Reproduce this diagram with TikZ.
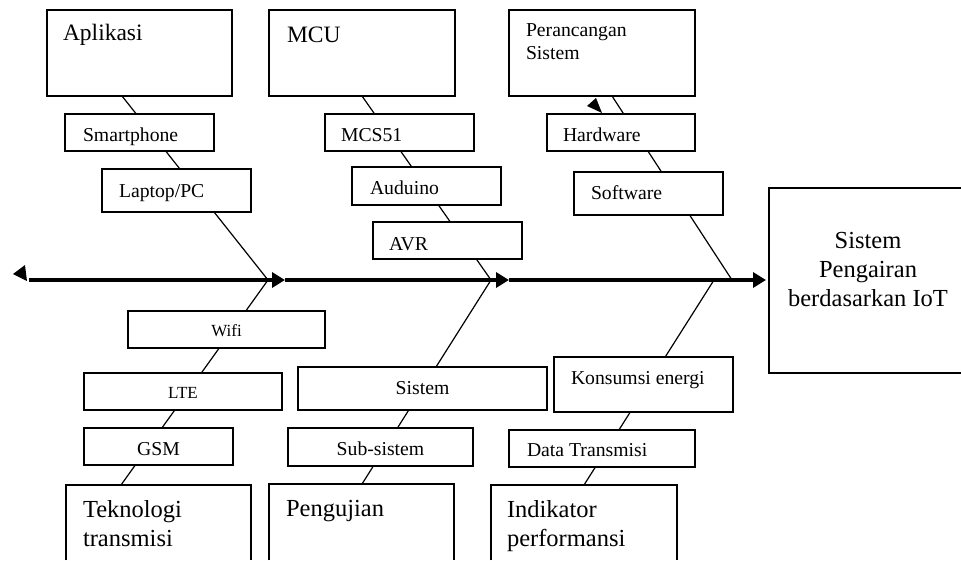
\documentclass[tikz,border=0pt]{standalone}
\usepackage{fontspec}
\setmainfont{Liberation Serif}
\usetikzlibrary{arrows.meta}
\pgfdeclarelayer{bones}
\pgfsetlayers{bones,main}

\newcommand\bigtxt{\fontsize{23.5}{29}\selectfont}
\newcommand\midtxt{\fontsize{19.7}{23}\selectfont}
\newcommand\smalltxt{\fontsize{17}{20}\selectfont}

\tikzset{
  box/.style={draw, fill=white, line width=1.1pt, inner sep=0pt, outer sep=0pt, anchor=north west},
  openbox/.style={fill=white, inner sep=0pt, outer sep=0pt, anchor=north west},
  frame/.style={line width=1.1pt},
  lbl/.style={inner sep=0pt, outer sep=0pt, anchor=base west},
  clbl/.style={inner sep=0pt, outer sep=0pt, anchor=base},
  bone/.style={line width=1.2pt},
  spine/.style={line width=4.5pt, -{Triangle[length=13pt,width=15pt]}},
}

\begin{document}
\begin{tikzpicture}[x=1pt, y=-1pt]
\useasboundingbox (0,0) rectangle (961,560);

% upper categories
\node[box, minimum width=185pt, minimum height=86pt] (aplikasi) at (47,10) {};
\node[box, minimum width=186pt, minimum height=86pt] (mcu) at (269,10) {};
\node[box, minimum width=186pt, minimum height=86pt] (rancang) at (509,10) {};
\node[lbl, font=\bigtxt] (aplikasi-t) at (63,40.7) {Aplikasi};
\node[lbl, font=\bigtxt] (mcu-t) at (287,42) {MCU};
\node[lbl, font=\midtxt] (rancang-t) at (526,36.7) {\parbox[t]{160pt}{\raggedright Perancangan\\Sistem}};

% upper causes
\node[box, minimum width=149pt, minimum height=37pt] (smart) at (65,114) {};
\node[box, minimum width=149pt, minimum height=43pt] (laptop) at (102,169) {};
\node[box, minimum width=149pt, minimum height=37pt] (mcs) at (325,114) {};
\node[box, minimum width=149pt, minimum height=38pt] (auduino) at (352,167) {};
\node[box, minimum width=149pt, minimum height=37pt] (avr) at (373,222) {};
\node[box, minimum width=148pt, minimum height=37pt] (hardware) at (547,114) {};
\node[box, minimum width=149pt, minimum height=43pt] (software) at (574,172) {};
\node[lbl, font=\midtxt] (smart-t) at (83,141.7) {Smartphone};
\node[lbl, font=\midtxt] (laptop-t) at (119,197) {Laptop/PC};
\node[lbl, font=\midtxt] (mcs-t) at (341,141.7) {MCS51};
\node[lbl, font=\midtxt] (auduino-t) at (370,194.3) {Auduino};
\node[lbl, font=\midtxt] (avr-t) at (389,250) {AVR};
\node[lbl, font=\midtxt] (hardware-t) at (563,141.7) {Hardware};
\node[lbl, font=\midtxt] (software-t) at (591,199) {Software};

% effect
\node[openbox, minimum width=192pt, minimum height=185pt] (sys) at (769,188) {};
\draw[frame] (sys.north east) -- (sys.north west) -- (sys.south west) -- (sys.south east);
\node[clbl, font=\fontsize{24.5}{29}\selectfont] (sys-t) at (868,248)
  {\parbox[t]{190pt}{\centering Sistem\\Pengairan\\berdasarkan IoT}};

% lower causes
\node[box, minimum width=197pt, minimum height=37pt] (wifi) at (128,311) {};
\node[box, minimum width=198pt, minimum height=37pt] (lte) at (84,373) {};
\node[box, minimum width=149pt, minimum height=37pt] (gsm) at (84,428) {};
\node[box, minimum width=249pt, minimum height=43pt] (sistem) at (298,367) {};
\node[box, minimum width=185pt, minimum height=38pt] (sub) at (288,428) {};
\node[box, minimum width=179pt, minimum height=55pt] (konsumsi) at (554,357) {};
\node[box, minimum width=186pt, minimum height=37pt] (data) at (509,430) {};
\node[clbl, font=\smalltxt] (wifi-t) at (226.5,336) {Wifi};
\node[clbl, font=\smalltxt] (lte-t) at (183,398) {LTE};
\node[clbl, font=\midtxt] (gsm-t) at (158.5,455.7) {GSM};
\node[clbl, font=\midtxt] (sistem-t) at (422.5,394.3) {Sistem};
\node[clbl, font=\midtxt] (sub-t) at (380.5,455) {Sub-sistem};
\node[lbl, font=\midtxt] (konsumsi-t) at (571,384) {Konsumsi energi};
\node[lbl, font=\midtxt] (data-t) at (527,456.7) {Data Transmisi};

% lower categories, open at the page edge
\node[openbox, minimum width=185pt, minimum height=75pt] (tek) at (66,485) {};
\node[openbox, minimum width=185pt, minimum height=76pt] (uji) at (269,484) {};
\node[openbox, minimum width=186pt, minimum height=75pt] (ind) at (491,485) {};
\draw[frame] (tek.south west) |- (tek.north east) -- (tek.south east);
\draw[frame] (uji.south west) |- (uji.north east) -- (uji.south east);
\draw[frame] (ind.south west) |- (ind.north east) -- (ind.south east);
\node[lbl, font=\fontsize{24.5}{29}\selectfont] (tek-t) at (83,517) {\parbox[t]{160pt}{\raggedright Teknologi\\transmisi}};
\node[lbl, font=\fontsize{24.5}{29}\selectfont] (uji-t) at (286,516) {Pengujian};
\node[lbl, font=\fontsize{24.5}{29}\selectfont] (ind-t) at (507,517) {\parbox[t]{160pt}{\raggedright Indikator\\performansi}};

% spine
\coordinate (tail) at (29,280);
\coordinate (h1) at (285,280);
\coordinate (h2) at (509,280);
\coordinate (jA) at (268,280);
\coordinate (jB) at (491,280);
\coordinate (jC) at (732,280);
\coordinate (jD) at (714,280);
\draw[spine] (tail) -- (h1);
\draw[spine] (h1) -- (h2);
\draw[spine] (h2) -- ([xshift=-3pt]sys.west |- tail);
\fill (13,274) -- (25,265) -- (27,281) -- cycle;
\fill (587,106) -- (596,98) -- (602,113) -- cycle;

% bones, drawn behind the boxes
\begin{pgfonlayer}{bones}
\draw[bone] ([xshift=75pt]aplikasi.south west) -- (jA);
\draw[bone] ([xshift=93pt]mcu.south west) -- (jB);
\draw[bone] ([xshift=103pt]rancang.south west) -- (jC);
\draw[bone] (jA) -- ([xshift=55pt]tek.north west);
\draw[bone] (jB) -- ([xshift=93pt]uji.north west);
\draw[bone] (jD) -- ([xshift=93pt]ind.north west);
\end{pgfonlayer}
\end{tikzpicture}
\end{document}
